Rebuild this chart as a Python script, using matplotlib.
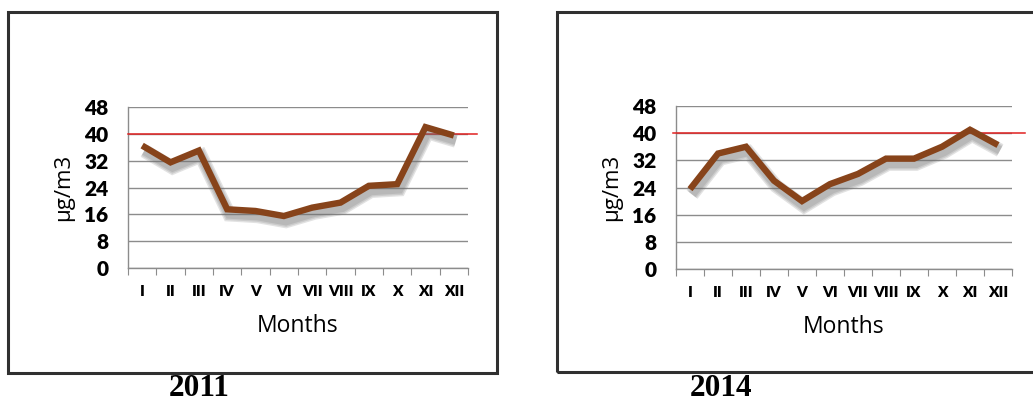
import matplotlib
matplotlib.use("Agg")
import matplotlib.pyplot as plt
import matplotlib.patheffects as pe
from matplotlib.patches import Rectangle
from matplotlib.transforms import blended_transform_factory

months = ["I", "II", "III", "IV", "V", "VI", "VII", "VIII", "IX", "X", "XI", "XII"]
values_2011 = [36.5, 31.5, 35, 17.5, 17, 15.5, 18, 19.5, 24.5, 25, 42, 39.5]
values_2014 = [23.5, 34, 36, 26, 20, 25, 28, 32.5, 32.5, 36, 41, 36.5]
limit_value = 40
y_ticks = [0, 8, 16, 24, 32, 40, 48]
years = ["2011", "2014"]

W, H = 1033, 405
fig = plt.figure(figsize=(W / 100, H / 100), dpi=100)

def px_rect(x0, y0, x1, y1):
    return [x0 / W, 1 - y1 / H, (x1 - x0) / W, (y1 - y0) / H]

axes_boxes = [px_rect(128, 107, 468, 268), px_rect(676, 106, 1012, 269)]
frames = [(8, 12, 497, 373), (557, 12, 1045, 372)]
limit_span = [(0.0, 1.026), (-0.009, 1.039)]
year_pos = [(199, 389), (721, 389)]

tick_font = ["Lato", "DejaVu Sans"]
label_font = ["Open Sans", "DejaVu Sans"]
grid_col = "#8c8c8c"
line_col = "#87431a"

for i, (vals, year) in enumerate(zip([values_2011, values_2014], years)):
    fx0, fy0, fx1, fy1 = frames[i]
    fig.patches.append(Rectangle((fx0 / W, 1 - fy1 / H), (fx1 - fx0) / W, (fy1 - fy0) / H,
                                 transform=fig.transFigure, fill=False,
                                 edgecolor="#303030", linewidth=2.2, clip_on=False))
    ax = fig.add_axes(axes_boxes[i])
    x = list(range(len(months)))
    ax.set_xlim(-0.5, len(months) - 0.5)
    ax.set_ylim(0, 48)
    for s in ("top", "right"):
        ax.spines[s].set_visible(False)
    for s in ("left", "bottom"):
        ax.spines[s].set_color(grid_col)
        ax.spines[s].set_linewidth(1.0)
    ax.set_yticks(y_ticks)
    ax.set_yticklabels([str(v) for v in y_ticks], fontfamily=tick_font, fontweight="heavy",
                       fontsize=15)
    ax.tick_params(axis="y", length=0, pad=14)
    ax.set_xticks([k - 0.5 for k in range(len(months) + 1)])
    ax.set_xticklabels([])
    ax.tick_params(axis="x", which="major", length=5, color=grid_col, direction="out")
    ax.set_xticks(x, minor=True)
    ax.set_xticklabels(months, minor=True, fontfamily=tick_font, fontweight="heavy",
                       fontsize=11)
    ax.tick_params(axis="x", which="minor", length=0, pad=12)
    ax.grid(axis="y", color=grid_col, linewidth=1.0)
    ax.set_axisbelow(True)

    trans = blended_transform_factory(ax.transAxes, ax.transData)
    ax.plot(limit_span[i], [limit_value, limit_value], color="#e02020", linewidth=1.1,
            transform=trans, clip_on=False, zorder=3)

    shadow = [pe.SimpleLineShadow(offset=(1.5, -3.8), shadow_color="#707070",
                                  alpha=0.2, linewidth=w) for w in (10, 8, 6)]
    ax.plot(x, vals, color=line_col, linewidth=4.6, solid_joinstyle="miter",
            solid_capstyle="butt", zorder=4, path_effects=shadow + [pe.Normal()])

    ax.set_xlabel("Months", fontfamily=label_font, fontsize=16.5, labelpad=12)
    ax.set_ylabel("µg/m3", fontfamily=label_font, fontsize=16, labelpad=7)

    fig.text(year_pos[i][0] / W, 1 - year_pos[i][1] / H, year, ha="center", va="center",
             fontfamily="Liberation Serif", fontweight="bold", fontsize=22.5)

fig.savefig("out.png", dpi=100)
